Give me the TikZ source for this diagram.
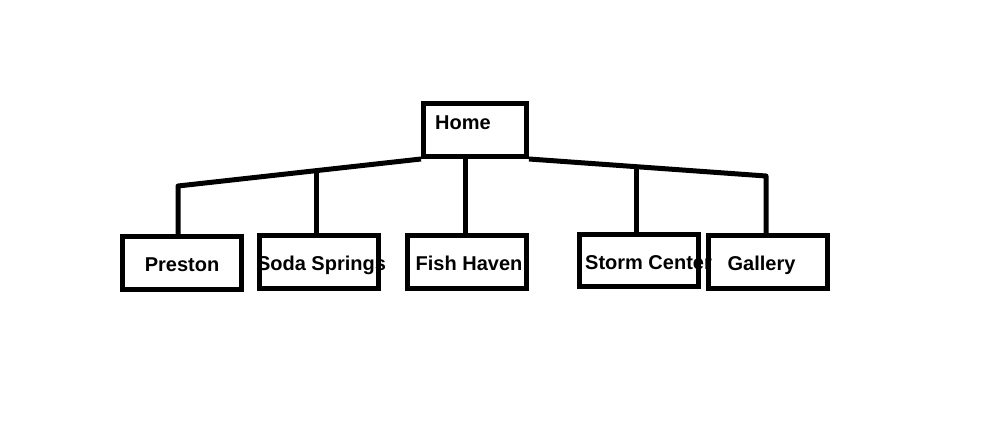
\documentclass[tikz,border=0pt]{standalone}
\usepackage{fontspec}
\setmainfont{Liberation Sans}
\newcommand{\town}[2][0pt]{\makebox[0pt]{\hspace*{#1}\raisebox{-4.5pt}[0pt][0pt]{#2}}}

\begin{document}
\begin{tikzpicture}[
      x=0.5pt, y=-0.5pt,
      every node/.style={inner sep=0pt,font=\fontsize{10pt}{12pt}\bfseries},
      page/.style={draw, line width=2.5pt, minimum width=59.5pt, minimum height=26.5pt},
      link/.style={line width=2.5pt, line join=round}
    ]
      \useasboundingbox (0,0) rectangle (1004,448);
      \node[page, minimum width=51.5pt] (home) at (475,130) {\makebox[0pt]{\hspace*{-12pt}\smash{Home}}};
      \node[page] (preston) at (182,263) {\town{Preston}};
      \node[page] (soda) at (318.5,262) {\town[3pt]{Soda Springs}};
      \node[page] (fish) at (467,262) {\town[2pt]{Fish Haven}};
      \node[page, minimum height=26pt] (storm) at (638.5,260.5) {\town[10pt]{Storm Center}};
      \node[page] (gallery) at (767.5,262) {\town[-6pt]{Gallery}};
      \coordinate (lcorner) at (178,186);
      \coordinate (rcorner) at (766,176);
      \coordinate (sodatop) at (316,169);
      \coordinate (fishtop) at (465,157);
      \coordinate (stormtop) at (636,165);
      \draw[link] (home.south west) -- (lcorner) -- (lcorner |- preston.north);
      \draw[link] (home.south east) -- (rcorner) -- (rcorner |- gallery.north);
      \draw[link] (sodatop) -- (sodatop |- soda.north);
      \draw[link] (fishtop) -- (fishtop |- fish.north);
      \draw[link] (stormtop) -- (stormtop |- storm.north);
    \end{tikzpicture}
\end{document}
